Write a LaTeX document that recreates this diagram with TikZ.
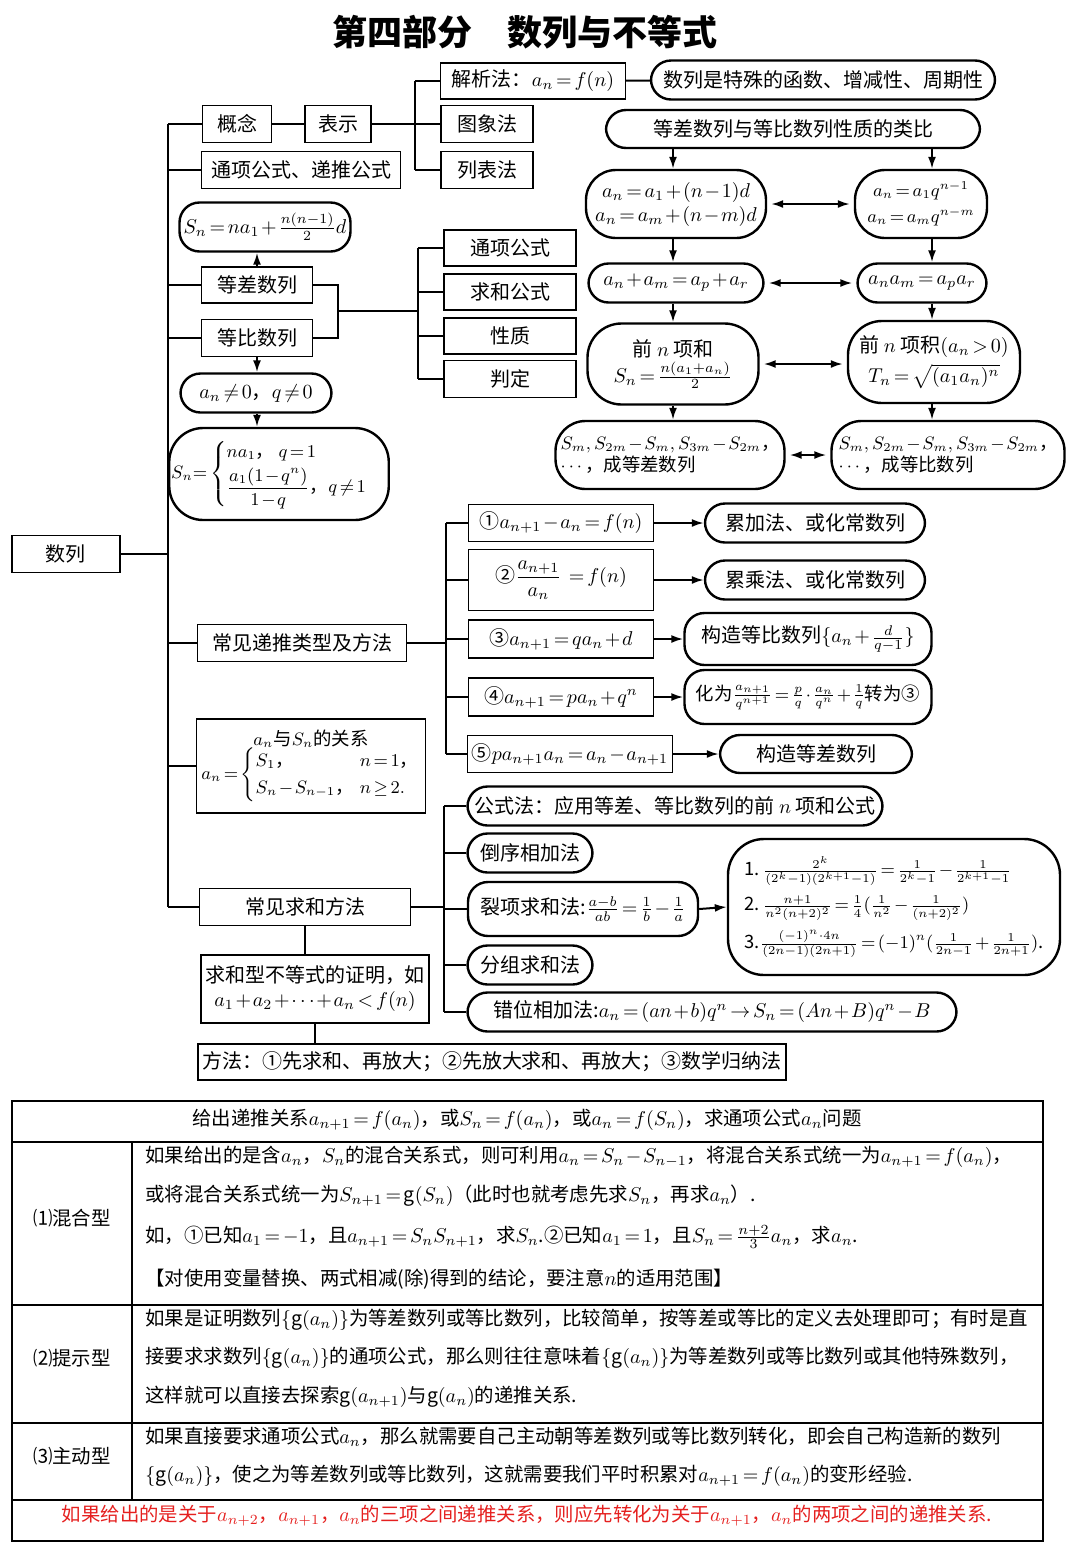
\documentclass[tikz,border=0pt]{standalone}
\usepackage{amsmath}
\usepackage{fontspec}
\setmainfont{Noto Sans CJK SC}
\usetikzlibrary{arrows.meta, positioning, calc}
\definecolor{alert}{HTML}{E5201F}
\medmuskip=1.5mu plus 1mu minus 1mu
\thickmuskip=2.5mu plus 2mu minus 1mu

\begin{document}
\begin{tikzpicture}[x=0.5pt, y=-0.5pt,
    font=\fontsize{10}{12}\selectfont,
    wh/.style 2 args={minimum width={#1*0.5pt}, minimum height={#2*0.5pt}},
    rect/.style={draw, line width=0.7pt, inner sep=2pt, align=center},
    pill/.style={draw, line width=1.2pt, rounded corners=10pt, inner sep=2pt, align=center},
    small/.style={font=\fontsize{9.2}{11}\selectfont, inner sep=1pt},
    link/.style={line width=1pt},
    arr/.style={line width=1pt, -{Latex[length=6pt,width=4pt]}},
    darr/.style={line width=1pt, {Latex[length=6pt,width=4pt]}-{Latex[length=6pt,width=4pt]}, shorten <=2pt, shorten >=2pt},
    tbl/.style={line width=0.8pt},
    row/.style={anchor=west, inner sep=0pt, font=\fontsize{9.7}{12}\selectfont}
  ]
  \useasboundingbox (0,0) rectangle (1080,1559);
  \node[font=\fontsize{17.5}{20}\selectfont\bfseries] (title) at (525,32) {第四部分　数列与不等式};

  % main trunk
  \node[rect, wh={108}{37}] (shulie) at (66,554) {数列};
  \node[rect, wh={69}{37}] (gainian) at (237,124) {概念};
  \node[rect, wh={66}{37}] (biaoshi) at (338,124) {表示};
  \node[rect, wh={185}{36}] (jiexi) at (533,81) {解析法：$a_n=f(n)$};
  \node[rect, wh={92}{37}] (tuxiang) at (487,124) {图象法};
  \node[rect, wh={92}{37}] (liebiao) at (487,170) {列表法};
  \node[pill, wh={344}{39}] (hanshu) at (823,80) {数列是特殊的函数、增减性、周期性};
  \node[rect, wh={199}{37}] (tongdi) at (301,170) {通项公式、递推公式};
  \node[pill, wh={171}{49}] (dcsum) at (265,227) {$S_n=na_1+\frac{n(n-1)}{2}d$};
  \node[rect, wh={111}{36}] (dengcha) at (257,285) {等差数列};
  \node[rect, wh={111}{37}] (dengbi) at (257,338) {等比数列};
  \node[rect, wh={132}{36}] (tongxiang) at (510,248) {通项公式};
  \node[rect, wh={132}{36}] (qiuhe) at (510,292) {求和公式};
  \node[rect, wh={132}{36}] (xingzhi) at (510,336) {性质};
  \node[rect, wh={132}{37}] (panding) at (510,379) {判定};
  \node[pill, wh={151}{39}] (fei0) at (256,393) {$a_n\neq0$，$q\neq0$};
  \node[pill, small, wh={198}{92}, rounded corners=17pt] (dbsum) at (279,474)
    {$S_n{=}\begin{cases} na_1\text{，}\ q=1\\[1pt] \dfrac{a_1(1-q^n)}{1-q}\text{，}q\neq1\end{cases}$};
  \node[rect, wh={209}{37}] (ditui) at (302,643) {常见递推类型及方法};
  \node[rect, small, wh={229}{94}] (guanxi) at (311,766)
    {$a_n$与$S_n$的关系\\[-1pt]
     $a_n=\begin{cases}S_1\text{，} & \hspace{-6pt}n=1\text{，}\\ S_n-S_{n-1}\text{，} & \hspace{-6pt}n\geq2.\end{cases}$};
  \node[rect, wh={211}{37}] (qiuhefa) at (305,907) {常见求和方法};
  \node[rect, wh={224}{68}] (buding) at (315,989)
    {求和型不等式的证明，如\\ $a_1+a_2+\cdots+a_n<f(n)$};
  \node[rect, wh={584}{36}] (fangfa) at (492,1062)
    {方法：①先求和、再放大；②先放大求和、再放大；③数学归纳法};

  \coordinate (trunk) at (168,0);
  \coordinate (br1) at (415,0);
  \coordinate (br2) at (338,0);
  \coordinate (br3) at (418,0);
  \coordinate (pair) at (338,311);
  \draw[link] (gainian.west -| trunk) -- (qiuhefa.west -| trunk);
  \foreach \n in {gainian, tongdi, dengcha, dengbi, ditui, guanxi, qiuhefa}
    \draw[link] (\n.west) -- (\n.west -| trunk);
  \draw[link] (shulie.east) -- (shulie.east -| trunk);
  \draw[link] (gainian) -- (biaoshi);
  \draw[link] (biaoshi.east) -- (biaoshi.east -| br1);
  \draw[link] (jiexi.west -| br1) -- (liebiao.west -| br1);
  \foreach \n in {jiexi, tuxiang, liebiao}
    \draw[link] (\n.west) -- (\n.west -| br1);
  \draw[link] (jiexi) -- (hanshu);
  \draw[link] (dengcha.east) -| (dengbi.east -| br2) -- (dengbi.east);
  \draw[link] (pair) -- (pair -| br3);
  \draw[link] (tongxiang.west -| br3) -- (panding.west -| br3);
  \foreach \n in {tongxiang, qiuhe, xingzhi, panding}
    \draw[link] (\n.west) -- (\n.west -| br3);
  \draw[arr] (dengcha.north) -- (dengcha.north |- dcsum.south);
  \draw[arr] (dengbi.south) -- (dengbi.south |- fei0.north);
  \draw[arr] (fei0.south -| dengbi) -- (dbsum.north -| dengbi);

  % analogy
  \node[pill, wh={374}{38}] (leibi) at (793,129) {等差数列与等比数列性质的类比};
  \node[pill, wh={180}{68}, rounded corners=15pt] (L1) at (676,204)
    {$a_n=a_1+(n-1)d$\\ $a_n=a_m+(n-m)d$};
  \node[pill, small, wh={132}{68}, rounded corners=15pt] (R1) at (921,204)
    {$a_n=a_1q^{n-1}$\\[2pt] $a_n=a_mq^{n-m}$};
  \node[pill, wh={175}{39}] (L2) at (676,283) {$a_n+a_m=a_p+a_r$};
  \node[pill, wh={129}{39}] (R2) at (922,283) {$a_na_m=a_pa_r$};
  \node[pill, wh={171}{81}, rounded corners=17pt] (L3) at (673,364)
    {前 $n$ 项和\\[1pt] $S_n=\frac{n(a_1+a_n)}{2}$};
  \node[pill, wh={172}{82}, rounded corners=17pt] (R3) at (934,362)
    {前 $n$ 项积$(a_n>0)$\\[3pt] $T_n=\sqrt{(a_1a_n)^n}$};
  \node[pill, small, wh={229}{68}, rounded corners=15pt, align=left] (L4) at (670,455)
    {$S_m,S_{2m}-S_m,S_{3m}-S_{2m}$，\\ $\cdots$，成等差数列};
  \node[pill, small, wh={233}{68}, rounded corners=15pt, align=left] (R4) at (948,455)
    {$S_m,S_{2m}-S_m,S_{3m}-S_{2m}$，\\ $\cdots$，成等比数列};
  \coordinate (colL) at (673,0);
  \coordinate (colR) at (932,0);
  \draw[arr] (leibi.south -| colL) -- (L1.north -| colL);
  \draw[arr] (leibi.south -| colR) -- (R1.north -| colR);
  \foreach \a/\b in {L1/L2, L2/L3, L3/L4}
    \draw[arr] (\a.south -| colL) -- (\b.north -| colL);
  \foreach \a/\b in {R1/R2, R2/R3, R3/R4}
    \draw[arr] (\a.south -| colR) -- (\b.north -| colR);
  \foreach \i in {1,...,4}
    \draw[darr] (L\i.east) -- (L\i.east -| R\i.west);

  % recurrences
  \node[rect, wh={185}{37}] (r1) at (561,523) {①$a_{n+1}-a_n=f(n)$};
  \node[rect, wh={185}{61}] (r2) at (561,580) {②$\dfrac{a_{n+1}}{a_n}\ =f(n)$};
  \node[rect, wh={185}{38}] (r3) at (561,639) {③$a_{n+1}=qa_n+d$};
  \node[rect, wh={185}{38}] (r4) at (561,697) {④$a_{n+1}=pa_n+q^n$};
  \node[rect, wh={205}{37}] (r5) at (570,754) {⑤$pa_{n+1}a_n=a_n-a_{n+1}$};
  \node[pill, wh={220}{39}] (m1) at (815,523) {累加法、或化常数列};
  \node[pill, wh={220}{39}] (m2) at (815,580) {累乘法、或化常数列};
  \node[pill, wh={247}{52}] (m3) at (808,639) {构造等比数列$\{a_n+\frac{d}{q-1}\}$};
  \node[pill, small, wh={247}{54}] (m4) at (808,697)
    {化为$\frac{a_{n+1}}{q^{n+1}}=\frac{p}{q}\cdot\frac{a_n}{q^n}+\frac{1}{q}$转为③};
  \node[pill, wh={192}{38}] (m5) at (816,754) {构造等差数列};
  \coordinate (br4) at (446,0);
  \draw[link] (ditui.east) -- (ditui.east -| br4);
  \draw[link] (r1.west -| br4) -- (r5.west -| br4);
  \foreach \i in {1,...,5} {
    \draw[link] (r\i.west) -- (r\i.west -| br4);
    \draw[arr] (r\i.east) -- (m\i.west);
  }

  % summation
  \node[pill, wh={415}{39}] (s1) at (675,806) {公式法：应用等差、等比数列的前 $n$ 项和公式};
  \node[pill, wh={125}{39}] (s2) at (530,853) {倒序相加法};
  \node[pill, wh={230}{54}] (s3) at (583,909) {裂项求和法:$\frac{a-b}{ab}=\frac{1}{b}-\frac{1}{a}$};
  \node[pill, wh={125}{39}] (s4) at (530,965) {分组求和法};
  \node[pill, wh={489}{39}] (s5) at (712,1012) {错位相加法:$a_n=(an+b)q^n\to S_n=(An+B)q^n-B$};
  \node[pill, small, wh={332}{136}, rounded corners=18pt, align=left] (liexiang) at (894,907)
    {1.\,$\frac{2^k}{(2^k-1)(2^{k+1}-1)}=\frac{1}{2^k-1}-\frac{1}{2^{k+1}-1}$\\[4pt]
     2.\,$\frac{n+1}{n^2(n+2)^2}=\frac{1}{4}(\frac{1}{n^2}-\frac{1}{(n+2)^2})$\\[4pt]
     3.$\frac{(-1)^n\cdot4n}{(2n-1)(2n+1)}=(-1)^n(\frac{1}{2n-1}+\frac{1}{2n+1})$.};
  \coordinate (br5) at (444,0);
  \draw[link] (qiuhefa.east) -- (qiuhefa.east -| br5);
  \draw[link] (s1.west -| br5) -- (s5.west -| br5);
  \foreach \i in {1,...,5}
    \draw[link] (s\i.west) -- (s\i.west -| br5);
  \draw[arr] (s3.east) -- (liexiang.west);
  \draw[link] (qiuhefa.south) -- (qiuhefa.south |- buding.north);
  \draw[link] (buding.south) -- (buding.south |- fangfa.north);

  % table
  \draw[tbl] (12,1101) rectangle (1043,1541);
  \foreach \y in {1142,1305,1423,1500}
    \draw[tbl] (12,\y) -- (1043,\y);
  \draw[tbl] (132,1142) -- (132,1500);
  \node[font=\fontsize{9.7}{12}\selectfont] (head) at (527,1120) {给出递推关系$a_{n+1}=f(a_n)$，或$S_n=f(a_n)$，或$a_n=f(S_n)$，求通项公式$a_n$问题};
  \node[font=\fontsize{9.7}{12}\selectfont] (hunhe) at (72,1218) {⑴混合型};
  \node[font=\fontsize{9.7}{12}\selectfont] (tishi) at (72,1358) {⑵提示型};
  \node[font=\fontsize{9.7}{12}\selectfont] (zhudong) at (72,1456) {⑶主动型};
  \node[row] (h1) at (145,1157) {如果给出的是含$a_n$，$S_n$的混合关系式，则可利用$a_n=S_n-S_{n-1}$，将混合关系式统一为$a_{n+1}=f(a_n)$，};
  \node[row] (h2) at (145,1196) {或将混合关系式统一为$S_{n+1}=\mathrm{g}(S_n)$（此时也就考虑先求$S_n$，再求$a_n$）.};
  \node[row] (h3) at (145,1237) {如，①已知$a_1=-1$，且$a_{n+1}=S_nS_{n+1}$，求$S_n$.②已知$a_1=1$，且$S_n=\frac{n+2}{3}a_n$，求$a_n$.};
  \node[row] (h4) at (145,1279) {【对使用变量替换、两式相减(除)得到的结论，要注意$n$的适用范围】};
  \node[row] (t1) at (145,1320) {如果是证明数列$\{\mathrm{g}(a_n)\}$为等差数列或等比数列，比较简单，按等差或等比的定义去处理即可；有时是直};
  \node[row] (t2) at (145,1358) {接要求求数列$\{\mathrm{g}(a_n)\}$的通项公式，那么则往往意味着$\{\mathrm{g}(a_n)\}$为等差数列或等比数列或其他特殊数列，};
  \node[row] (t3) at (145,1397) {这样就可以直接去探索$\mathrm{g}(a_{n+1})$与$\mathrm{g}(a_n)$的递推关系.};
  \node[row] (z1) at (145,1437) {如果直接要求通项公式$a_n$，那么就需要自己主动朝等差数列或等比数列转化，即会自己构造新的数列};
  \node[row] (z2) at (145,1476) {$\{\mathrm{g}(a_n)\}$，使之为等差数列或等比数列，这就需要我们平时积累对$a_{n+1}=f(a_n)$的变形经验.};
  \node[text=alert, font=\fontsize{9.7}{12}\selectfont] (tip) at (527,1516) {如果给出的是关于$a_{n+2}$，$a_{n+1}$，$a_n$的三项之间递推关系，则应先转化为关于$a_{n+1}$，$a_n$的两项之间的递推关系.};
\end{tikzpicture}
\end{document}
